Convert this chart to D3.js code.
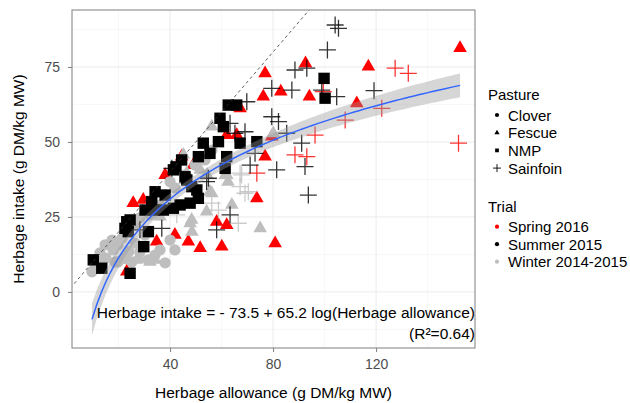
<!DOCTYPE html>
<html>
<head>
<meta charset="utf-8">
<script src="https://cdn.jsdelivr.net/npm/d3@7"></script>
<style>
  body { margin: 0; background: #fff; }
  text { font-family: "Liberation Sans", Arial, sans-serif; }
</style>
</head>
<body>
<div id="chart"></div>
<script>
const w = 630;
const h = 403;
const panel = { left: 72, right: 475, top: 10, bottom: 348 };

// tick values
const xTicks = [40, 80, 120];
const xMinor = [20, 60, 100, 140];
const yTicks = [0, 25, 50, 75];
const yMinor = [-12.5, 12.5, 37.5, 62.5, 87.5];

// fitted model: intake = b0 + b1 * log10(allowance)
const intercept = -73.5;
const slope = 65.2;

// points, [allowance, intake]
// Winter 2014-2015
const winterClover = [
  [10.9, 9.0], [12.8, 13.0], [15.1, 11.3], [17.9, 14.0], [19.8, 15.7], [21.4, 18.0],
  [26.4, 16.3], [28.3, 13.3], [31.5, 10.7], [38.1, 9.7], [34.2, 12.3], [22.5, 11.3],
  [26.4, 22.3], [28.3, 24.7], [32.2, 25.7], [36.1, 29.0], [38.1, 32.3], [41.9, 34.7],
  [40.0, 36.7], [45.8, 39.0], [49.7, 42.3], [53.6, 44.0], [56.3, 47.3], [19.8, 10.0],
  [9.7, 6.7], [41.9, 14.0], [40.0, 17.3], [36.1, 14.0], [30.3, 19.0], [17.5, 17.3],
  [23.7, 20.7], [14.8, 15.7], [18.6, 10.0], [25.2, 10.0], [13.0, 9.5], [24.0, 13.5]
];
const winterFescue = [
  [28.3, 11.3], [32.2, 10.0], [45.8, 37.3], [51.7, 40.7], [56.2, 55.1], [45.2, 45.7],
  [46.5, 39.6], [61.4, 39.0], [62.5, 36.7], [80.1, 52.9], [62.0, 39.0], [55.5, 33.4],
  [64.0, 29.0], [47.8, 22.9], [48.5, 20.0], [75.0, 21.2], [54.4, 39.0], [48.4, 24.0],
  [54.2, 26.8], [56.2, 32.9], [34.2, 10.7], [36.1, 25.1], [27.1, 10.7], [21.2, 10.7]
];
const winterSainfoin = [
  [67.8, 39.0], [70.4, 33.4], [69.1, 32.9], [56.2, 29.6], [42.6, 25.7], [67.2, 39.6],
  [58.8, 27.3], [66.5, 22.9], [67.2, 35.1]
];
// Spring 2016
const springFescue = [
  [152.6, 81.3], [92.6, 76.2], [76.9, 72.9], [117.0, 75.1], [76.2, 65.1], [83.0, 66.8],
  [94.1, 65.1], [112.5, 62.9], [79.5, 51.8], [76.9, 45.1], [67.2, 61.2], [62.0, 52.3],
  [65.9, 52.3], [38.1, 39.0], [49.0, 42.3], [29.6, 30.7], [34.8, 16.8], [41.9, 19.0],
  [47.1, 16.8], [51.7, 14.6], [60.1, 15.1], [58.1, 23.4], [62.0, 22.3], [73.7, 31.2],
  [23.2, 6.8], [44.5, 45.1], [80.8, 16.2], [25.7, 29.6]
];
const springSainfoin = [
  [127.4, 74.6], [132.5, 72.9], [152.0, 49.6], [122.2, 61.2], [108.0, 57.3], [99.5, 66.8],
  [96.3, 52.3], [88.5, 45.7], [93.1, 45.1], [73.7, 39.6]
];
// Summer 2015
const summerNmp = [
  [99.8, 71.2], [100.2, 64.6], [73.7, 50.1], [67.2, 49.6], [62.6, 62.3], [65.9, 62.3],
  [59.4, 57.9], [60.7, 55.1], [52.9, 49.6], [55.5, 46.2], [58.8, 50.1], [44.5, 44.0],
  [51.0, 45.1], [62.0, 45.1], [61.4, 41.2], [42.3, 41.7], [41.3, 40.7], [45.8, 38.4],
  [48.4, 35.1], [46.5, 37.3], [50.4, 34.0], [51.0, 31.2], [47.8, 29.6], [43.9, 29.0],
  [41.3, 27.9], [37.4, 27.3], [33.5, 27.3], [30.3, 27.3], [34.2, 33.4], [38.1, 32.3],
  [32.9, 30.1], [23.2, 23.4], [22.5, 21.2], [23.8, 20.1], [31.6, 20.1], [29.8, 15.1],
  [10.2, 10.7], [13.5, 7.9], [24.5, 6.2], [24.5, 24.0]
];
const summerSainfoin = [
  [104.1, 89.0], [105.4, 87.9], [101.1, 80.7], [88.5, 74.0], [93.1, 74.6], [98.9, 67.3],
  [104.7, 65.1], [79.5, 67.9], [87.3, 67.3], [119.2, 67.1], [69.8, 63.4], [79.5, 58.4],
  [82.1, 56.8], [69.1, 53.4], [85.3, 52.9], [91.1, 49.6], [73.0, 46.2], [92.4, 41.8],
  [71.1, 42.3], [81.4, 40.7], [93.7, 32.3], [63.3, 25.7], [58.1, 20.7], [54.9, 37.9],
  [65.2, 52.9], [63.3, 56.2], [40.7, 41.2], [54.2, 36.8], [36.8, 21.2], [28.3, 20.7]
];

const pastures = ['Clover', 'Fescue', 'NMP', 'Sainfoin'];
const trials = ['Spring 2016', 'Summer 2015', 'Winter 2014-2015'];
const trialColors = ['#ff0000', '#000000', '#bebebe'];

// drawing order follows the layers seen in the picture
const groups = [
  { pasture: 'Fescue', trial: 'Spring 2016', pts: springFescue },
  { pasture: 'Sainfoin', trial: 'Spring 2016', pts: springSainfoin },
  { pasture: 'Clover', trial: 'Winter 2014-2015', pts: winterClover },
  { pasture: 'Fescue', trial: 'Winter 2014-2015', pts: winterFescue },
  { pasture: 'Sainfoin', trial: 'Winter 2014-2015', pts: winterSainfoin },
  { pasture: 'NMP', trial: 'Summer 2015', pts: summerNmp },
  { pasture: 'Sainfoin', trial: 'Summer 2015', pts: summerSainfoin }
];

const color = d3.scaleOrdinal().domain(trials).range(trialColors);

const x = d3.scaleLinear().domain([1.94, 158.4]).range([panel.left, panel.right]);
const y = d3.scaleLinear().domain([-18.7, 94]).range([panel.bottom, panel.top]);

function shapePath(pasture, big) {
  if (pasture === 'Sainfoin') {
    const r = big ? 8.5 : 4;
    return `M${-r},0H${r}M0,${-r}V${r}`;
  }
  const types = { Clover: d3.symbolCircle, Fescue: d3.symbolTriangle, NMP: d3.symbolSquare };
  const sizes = big ? { Clover: 100, Fescue: 80, NMP: 130 } : { Clover: 14, Fescue: 12, NMP: 14 };
  return d3.symbol().type(types[pasture]).size(sizes[pasture])();
}

const svg = d3
  .select('#chart')
  .append('svg')
  .attr('width', w)
  .attr('height', h);

svg.append('defs').append('clipPath').attr('id', 'clip')
  .append('rect')
  .attr('x', panel.left).attr('y', panel.top)
  .attr('width', panel.right - panel.left).attr('height', panel.bottom - panel.top);

// grid
const grid = svg.append('g');
grid.selectAll('.xminor').data(xMinor).enter().append('line')
  .attr('x1', (d) => x(d)).attr('x2', (d) => x(d))
  .attr('y1', panel.top).attr('y2', panel.bottom)
  .attr('stroke', '#f2f2f2').attr('stroke-width', 0.6);
grid.selectAll('.yminor').data(yMinor).enter().append('line')
  .attr('y1', (d) => y(d)).attr('y2', (d) => y(d))
  .attr('x1', panel.left).attr('x2', panel.right)
  .attr('stroke', '#f2f2f2').attr('stroke-width', 0.6);
grid.selectAll('.xmajor').data(xTicks).enter().append('line')
  .attr('x1', (d) => x(d)).attr('x2', (d) => x(d))
  .attr('y1', panel.top).attr('y2', panel.bottom)
  .attr('stroke', '#ebebeb').attr('stroke-width', 1);
grid.selectAll('.ymajor').data(yTicks).enter().append('line')
  .attr('y1', (d) => y(d)).attr('y2', (d) => y(d))
  .attr('x1', panel.left).attr('x2', panel.right)
  .attr('stroke', '#ebebeb').attr('stroke-width', 1);

const plot = svg.append('g').attr('clip-path', 'url(#clip)');

// points
groups.forEach((g) => {
  const filled = g.pasture !== 'Sainfoin';
  plot.append('g')
    .selectAll('path')
    .data(g.pts)
    .enter()
    .append('path')
    .attr('transform', (d) => `translate(${x(d[0])},${y(d[1])})`)
    .attr('d', shapePath(g.pasture, true))
    .attr('fill', filled ? color(g.trial) : 'none')
    .attr('stroke', filled ? 'none' : color(g.trial))
    .attr('stroke-width', 1.3)
    .attr('stroke-opacity', 0.8);
});

// 1:1 line
plot.append('line')
  .attr('x1', x(-20)).attr('y1', y(-20))
  .attr('x2', x(100)).attr('y2', y(100))
  .attr('stroke', '#333').attr('stroke-width', 0.8)
  .attr('stroke-dasharray', '3,3');

// fitted log curve with 95% band from the points above
const allPts = groups.flatMap((g) => g.pts);
const u = allPts.map((d) => Math.log10(d[0]));
const n = u.length;
const ubar = d3.mean(u);
const sxx = d3.sum(u, (v) => (v - ubar) ** 2);
const sres = Math.sqrt(d3.sum(allPts, (d) => (d[1] - (intercept + slope * Math.log10(d[0]))) ** 2) / (n - 2));
const xmin = d3.min(allPts, (d) => d[0]);
const xmax = d3.max(allPts, (d) => d[0]);
const fit = d3.range(0, 81).map((i) => {
  const xv = xmin + (xmax - xmin) * i / 80;
  const lv = Math.log10(xv);
  const fv = intercept + slope * lv;
  const se = sres * Math.sqrt(1 / n + (lv - ubar) ** 2 / sxx);
  return { x: xv, y: fv, lo: fv - 1.97 * se, hi: fv + 1.97 * se };
});

plot.append('path')
  .datum(fit)
  .attr('d', d3.area().x((d) => x(d.x)).y0((d) => y(d.lo)).y1((d) => y(d.hi)))
  .attr('fill', '#999').attr('fill-opacity', 0.4);
plot.append('path')
  .datum(fit)
  .attr('d', d3.line().x((d) => x(d.x)).y((d) => y(d.y)))
  .attr('fill', 'none').attr('stroke', '#3366ff').attr('stroke-width', 1.5);

// annotation
svg.append('text')
  .attr('x', panel.right).attr('y', 318)
  .attr('text-anchor', 'end').attr('font-size', 15.5).attr('fill', '#000')
  .text('Herbage intake = - 73.5 + 65.2 log(Herbage allowance)');
svg.append('text')
  .attr('x', panel.right).attr('y', 339)
  .attr('text-anchor', 'end').attr('font-size', 15.5).attr('fill', '#000')
  .text('(R²=0.64)');

// panel border
svg.append('rect')
  .attr('x', panel.left).attr('y', panel.top)
  .attr('width', panel.right - panel.left).attr('height', panel.bottom - panel.top)
  .attr('fill', 'none').attr('stroke', '#7f7f7f').attr('stroke-width', 1);

// axes
const xAxis = d3.axisBottom(x).tickValues(xTicks).tickSize(4).tickPadding(7);
const yAxis = d3.axisLeft(y).tickValues(yTicks).tickSize(4).tickPadding(8);

svg.append('g')
  .attr('transform', `translate(0, ${panel.bottom})`)
  .call(xAxis)
  .call((g) => g.select('.domain').remove())
  .call((g) => g.selectAll('line').attr('stroke', '#7f7f7f'))
  .call((g) => g.selectAll('text').attr('font-size', 14).attr('fill', '#4d4d4d')
    .attr('font-family', '"Liberation Sans", Arial, sans-serif'));

svg.append('g')
  .attr('transform', `translate(${panel.left}, 0)`)
  .call(yAxis)
  .call((g) => g.select('.domain').remove())
  .call((g) => g.selectAll('line').attr('stroke', '#7f7f7f'))
  .call((g) => g.selectAll('text').attr('font-size', 14).attr('fill', '#4d4d4d')
    .attr('font-family', '"Liberation Sans", Arial, sans-serif'));

svg.append('text')
  .attr('x', (panel.left + panel.right) / 2).attr('y', 398)
  .attr('text-anchor', 'middle').attr('font-size', 15.5)
  .text('Herbage allowance (g DM/kg MW)');
svg.append('text')
  .attr('transform', `translate(24, ${(panel.top + panel.bottom) / 2}) rotate(-90)`)
  .attr('text-anchor', 'middle').attr('font-size', 15.5)
  .text('Herbage intake (g DM/kg MW)');

// legends
const legend = svg.append('g');
legend.append('text').attr('x', 488).attr('y', 100).attr('font-size', 15).text('Pasture');
pastures.forEach((p, i) => {
  const cy = 115 + i * 17.7;
  const filled = p !== 'Sainfoin';
  legend.append('path')
    .attr('transform', `translate(497, ${cy})`)
    .attr('d', shapePath(p, false))
    .attr('fill', filled ? '#000' : 'none')
    .attr('stroke', filled ? 'none' : '#000')
    .attr('stroke-width', 0.9);
  legend.append('text').attr('x', 508).attr('y', cy + 5.5).attr('font-size', 15).text(p);
});
legend.append('text').attr('x', 488).attr('y', 212).attr('font-size', 15).text('Trial');
trials.forEach((t, i) => {
  const cy = 226.7 + i * 17.5;
  legend.append('path')
    .attr('transform', `translate(497, ${cy})`)
    .attr('d', shapePath('Clover', false))
    .attr('fill', color(t));
  legend.append('text').attr('x', 508).attr('y', cy + 5.5).attr('font-size', 15).text(t);
});
</script>
</body>
</html>
